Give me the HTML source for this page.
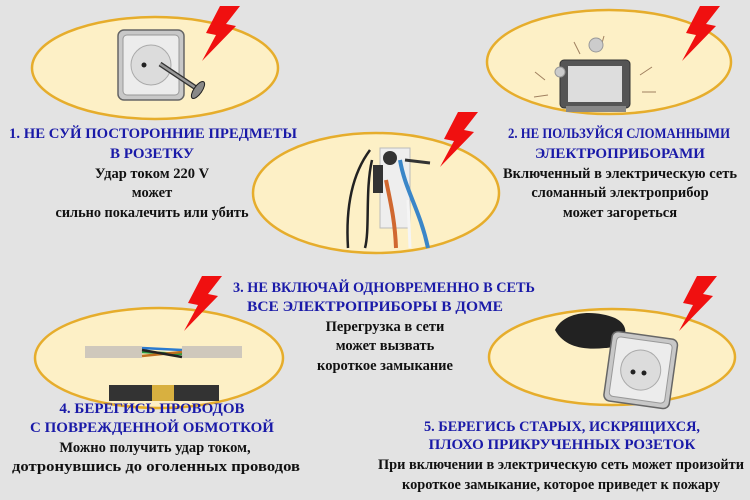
<!DOCTYPE html>
<html><head><meta charset="utf-8"><style>
html,body{margin:0;padding:0;background:#e3e3e3;}
svg{display:block}
.t{font-family:"Liberation Serif",serif;font-weight:bold;font-size:15px;fill:#1a1aa8;text-anchor:middle}
.b{font-family:"Liberation Serif",serif;font-weight:bold;font-size:14.5px;fill:#111;text-anchor:middle}
</style></head><body>
<svg width="750" height="500" viewBox="0 0 750 500" xmlns="http://www.w3.org/2000/svg">
<defs>
<symbol id="bolt" viewBox="0 0 42 55"><polygon points="22,0 42,0 28,18 38,20 4,55 18,29 8,27" fill="#f01010"/></symbol>
<g id="sock">
<rect x="0" y="0" width="66" height="70" rx="6" fill="#c8c8c8" stroke="#666" stroke-width="1.5"/>
<rect x="5" y="5" width="56" height="60" rx="4" fill="#ececec" stroke="#999"/>
<circle cx="33" cy="35" r="20" fill="#dcdcdc" stroke="#aaa"/>
</g>
</defs>
<rect width="750" height="500" fill="#e3e3e3"/>
<g fill="#fdf0c6" stroke="#e6ad2c" stroke-width="2.5">
<ellipse cx="155" cy="68" rx="123" ry="51"/>
<ellipse cx="609" cy="62" rx="122" ry="52"/>
<ellipse cx="376" cy="193" rx="123" ry="60"/>
<ellipse cx="159" cy="358" rx="124" ry="50"/>
<ellipse cx="612" cy="357" rx="123" ry="48"/>
</g>
<!-- icon 1 -->
<use href="#sock" x="118" y="30"/>
<circle cx="144" cy="65" r="2.5" fill="#222"/>
<line x1="160" y1="64" x2="196" y2="88" stroke="#333" stroke-width="5"/>
<line x1="160" y1="64" x2="196" y2="88" stroke="#999" stroke-width="2.5"/>
<ellipse cx="198" cy="90" rx="4" ry="10" transform="rotate(35 198 90)" fill="#888" stroke="#222"/>
<!-- icon 2 tv -->
<rect x="560" y="60" width="70" height="48" rx="4" fill="#555" stroke="#333"/>
<rect x="568" y="66" width="54" height="36" fill="#ddd"/>
<rect x="566" y="106" width="60" height="6" fill="#888"/>
<g stroke="#a08060" stroke-width="1" fill="none">
<path d="M545 80 l-10 -8 M548 95 l-14 2 M640 75 l12 -8 M642 92 l14 0 M600 50 l4 -14 M580 54 l-6 -12"/>
</g>
<circle cx="596" cy="45" r="7" fill="#ccc" stroke="#999"/>
<circle cx="560" cy="72" r="5" fill="#ccc" stroke="#999"/>
<!-- icon 3 -->
<rect x="380" y="148" width="30" height="80" fill="#eee" stroke="#bbb"/>
<g fill="none" stroke-width="4">
<path d="M400 160 C 405 190, 420 210, 428 248" stroke="#3a86c8"/>
<path d="M386 180 C 390 200, 395 220, 396 248" stroke="#d06830"/>
<path d="M370 150 C 355 170, 345 200, 348 248" stroke="#222" stroke-width="2.5"/>
<path d="M372 160 C 365 190, 370 230, 365 248" stroke="#222" stroke-width="2.5"/>
<path d="M405 160 L 430 163" stroke="#333" stroke-width="3"/>
<path d="M408 200 L 410 248" stroke="#f5f5f5" stroke-width="3"/>
</g>
<circle cx="390" cy="158" r="7" fill="#333"/>
<rect x="373" y="165" width="10" height="28" fill="#333"/>
<!-- icon 4 -->
<rect x="85" y="346" width="57" height="12" fill="#cfc8bc"/>
<rect x="182" y="346" width="60" height="12" fill="#cfc8bc"/>
<g stroke-width="2.5"><line x1="142" y1="348" x2="182" y2="350" stroke="#2a7ad0"/><line x1="142" y1="352" x2="182" y2="354" stroke="#2a9a40"/><line x1="142" y1="356" x2="182" y2="352" stroke="#c07020"/><line x1="142" y1="350" x2="182" y2="357" stroke="#222"/></g>
<rect x="109" y="385" width="110" height="16" fill="#333"/>
<rect x="152" y="385" width="22" height="16" fill="#d8b040"/>
<!-- icon 5 -->
<path d="M555 330 c10 -20 40 -20 60 -12 c20 10 8 30 -10 30 c-20 2 -40 0 -50 -18z" fill="#222"/>
<g transform="rotate(8 640 375)"><use href="#sock" x="607" y="335"/></g>
<circle cx="633" cy="372" r="2.5" fill="#222"/><circle cx="644" cy="373" r="2.5" fill="#222"/>
<!-- bolts -->
<use href="#bolt" x="198" y="6" width="42" height="55"/>
<use href="#bolt" x="678" y="6" width="42" height="55"/>
<use href="#bolt" x="436" y="112" width="42" height="55"/>
<use href="#bolt" x="180" y="276" width="42" height="55"/>
<use href="#bolt" x="675" y="276" width="42" height="55"/>
<!-- texts -->
<text class="t" x="153" y="138" textLength="288" lengthAdjust="spacingAndGlyphs">1.    НЕ СУЙ ПОСТОРОННИЕ ПРЕДМЕТЫ</text>
<text class="t" x="152" y="158">В РОЗЕТКУ</text>
<text class="b" x="152" y="178">Удар током 220 V</text>
<text class="b" x="152" y="197">может</text>
<text class="b" x="152" y="217" textLength="193" lengthAdjust="spacingAndGlyphs">сильно покалечить или убить</text>

<text class="t" x="619" y="138" textLength="222" lengthAdjust="spacingAndGlyphs">2. НЕ ПОЛЬЗУЙСЯ СЛОМАННЫМИ</text>
<text class="t" x="620" y="158">ЭЛЕКТРОПРИБОРАМИ</text>
<text class="b" x="620" y="178" textLength="234" lengthAdjust="spacingAndGlyphs">Включенный в электрическую сеть</text>
<text class="b" x="620" y="197">сломанный электроприбор</text>
<text class="b" x="620" y="217">может загореться</text>

<text class="t" x="384" y="292" textLength="302" lengthAdjust="spacingAndGlyphs">3. НЕ ВКЛЮЧАЙ ОДНОВРЕМЕННО В СЕТЬ</text>
<text class="t" x="375" y="311" textLength="256" lengthAdjust="spacingAndGlyphs">ВСЕ ЭЛЕКТРОПРИБОРЫ В ДОМЕ</text>
<text class="b" x="385" y="331">Перегрузка в сети</text>
<text class="b" x="385" y="350">может вызвать</text>
<text class="b" x="385" y="370">короткое замыкание</text>

<text class="t" x="152" y="413">4. БЕРЕГИСЬ ПРОВОДОВ</text>
<text class="t" x="152" y="432">С ПОВРЕЖДЕННОЙ ОБМОТКОЙ</text>
<text class="b" x="155" y="452">Можно получить удар током,</text>
<text class="b" x="156" y="471" textLength="288" lengthAdjust="spacingAndGlyphs">дотронувшись до оголенных проводов</text>

<text class="t" x="562" y="431" textLength="276" lengthAdjust="spacingAndGlyphs">5. БЕРЕГИСЬ СТАРЫХ, ИСКРЯЩИХСЯ,</text>
<text class="t" x="562" y="449">ПЛОХО ПРИКРУЧЕННЫХ РОЗЕТОК</text>
<text class="b" x="561" y="469" textLength="366" lengthAdjust="spacingAndGlyphs">При включении в электрическую сеть может произойти</text>
<text class="b" x="561" y="489" textLength="318" lengthAdjust="spacingAndGlyphs">короткое замыкание, которое приведет к пожару</text>
</svg>
</body></html>
